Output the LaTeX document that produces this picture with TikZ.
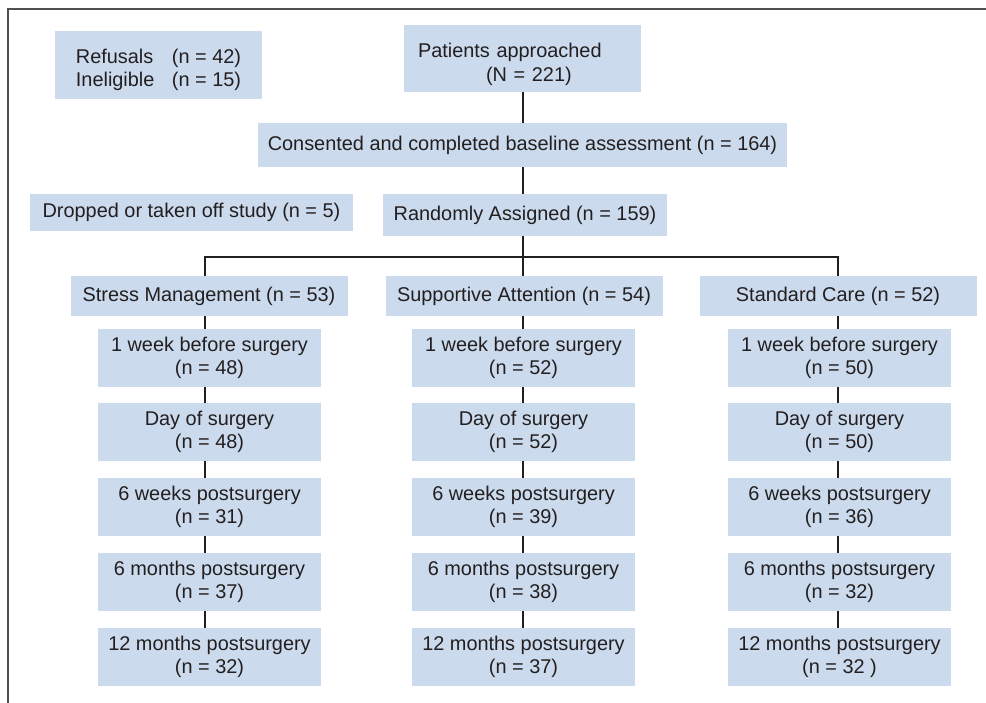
\documentclass[tikz,border=0pt]{standalone}
\usepackage{fontspec}
\setmainfont{Liberation Sans}
\definecolor{boxblue}{RGB}{203,219,237}
\definecolor{txt}{RGB}{35,31,32}
\definecolor{framegray}{RGB}{80,80,80}
\begin{document}
\begin{tikzpicture}[x=1pt,y=-1pt,
  box/.style={rectangle, fill=boxblue, inner sep=0pt, text=txt,
    font=\fontsize{19.9}{23.5}\selectfont, align=center},
  hdr/.style={box, minimum width=277pt, minimum height=40pt},
  stage/.style={box, minimum width=223pt, minimum height=58pt},
  conn/.style={line width=2.5pt, draw=txt}]
\useasboundingbox (0,0) rectangle (986,703);
\draw[line width=1.5pt, framegray] (8,703) -- (8,9) -- (986,9);

% top part
\node[box, minimum width=207pt, minimum height=68pt, align=left] (ref) at (158.5,65)
  {\rule{0pt}{24pt}\makebox[96pt][l]{Refusals}(n = 42)\\\makebox[96pt][l]{Ineligible}(n = 15)};
\node[box, minimum height=67pt, text width=209pt, inner xsep=14pt, align=left] (pat) at (522.5,58.5)
  {\rule{0pt}{26pt}Patients approached\\\hspace*{68pt}(N = 221)};
\node[box, minimum width=529pt, minimum height=44pt] (cons) at (522.5,145)
  {Consented and completed baseline assessment (n = 164)};
\node[box, minimum width=323pt, minimum height=37pt] (drop) at (191.5,212.5)
  {Dropped or taken off study (n = 5)};
\node[box, minimum width=284pt, minimum height=42pt] (rand) at (525,215)
  {Randomly Assigned (n = 159)};

% arm headers
\node[hdr] (sm) at (209,296) {Stress Management (n = 53)};
\node[hdr] (sa) at (524,296) {Supportive Attention (n = 54)};
\node[hdr] (sc) at (838,296) {Standard Care (n = 52)};

% Stress Management column
\node[stage] (sm1) at (209.5,358) {1 week before surgery\\(n = 48)};
\node[stage] (sm2) at (209.5,432) {Day of surgery\\(n = 48)};
\node[stage] (sm3) at (209.5,507) {6 weeks postsurgery\\(n = 31)};
\node[stage] (sm4) at (209.5,582) {6 months postsurgery\\(n = 37)};
\node[stage] (sm5) at (209.5,657) {12 months postsurgery\\(n = 32)};

% Supportive Attention column
\node[stage] (sa1) at (523.5,358) {1 week before surgery\\(n = 52)};
\node[stage] (sa2) at (523.5,432) {Day of surgery\\(n = 52)};
\node[stage] (sa3) at (523.5,507) {6 weeks postsurgery\\(n = 39)};
\node[stage] (sa4) at (523.5,582) {6 months postsurgery\\(n = 38)};
\node[stage] (sa5) at (523.5,657) {12 months postsurgery\\(n = 37)};

% Standard Care column
\node[stage] (sc1) at (839.5,358) {1 week before surgery\\(n = 50)};
\node[stage] (sc2) at (839.5,432) {Day of surgery\\(n = 50)};
\node[stage] (sc3) at (839.5,507) {6 weeks postsurgery\\(n = 36)};
\node[stage] (sc4) at (839.5,582) {6 months postsurgery\\(n = 32)};
\node[stage] (sc5) at (839.5,657) {12 months postsurgery\\(n = 32 )};

% connectors
\coordinate (bl) at (205,257);
\coordinate (bm) at (523,257);
\coordinate (br) at (838,257);
\draw[conn] (pat.south -| bm) -- (cons.north -| bm);
\draw[conn] (cons.south -| bm) -- (rand.north -| bm);
\draw[conn] (rand.south -| bm) -- (bm);
\draw[conn] (sm.north -| bl) -- (bl) -- (br) -- (sc.north -| br);
\draw[conn] (bm) -- (sa.north -| bm);
\foreach \col/\xx in {sm/bl, sa/bm, sc/br} {
  \draw[conn] (\col.south -| \xx) -- (\col1.north -| \xx);
  \foreach \i/\j in {1/2,2/3,3/4,4/5}
    \draw[conn] (\col\i.south -| \xx) -- (\col\j.north -| \xx);
}
\end{tikzpicture}
\end{document}
